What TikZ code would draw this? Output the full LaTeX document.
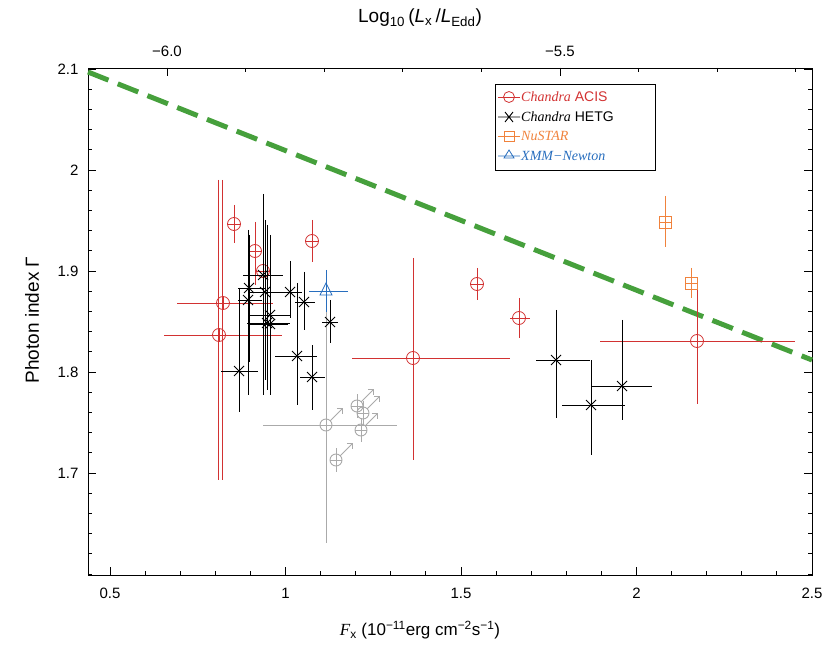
\documentclass[tikz,border=0pt]{standalone}
\usepackage{fontspec}
\setmainfont{Liberation Sans}
\newfontfamily\serifit{Liberation Serif}
\usetikzlibrary{arrows.meta}
\begin{document}
\begin{tikzpicture}[x=1pt,y=-1pt,
 ax/.style={line width=0.9pt},
 red/.style={draw={rgb,255:red,210;green,50;blue,50},line width=0.8pt},
 blk/.style={draw=black,line width=0.9pt},
 gry/.style={draw={rgb,255:red,170;green,170;blue,170},line width=0.9pt},
 org/.style={draw={rgb,255:red,240;green,130;blue,60},line width=0.9pt},
 blu/.style={draw={rgb,255:red,40;green,110;blue,190},line width=0.8pt}]
\definecolor{cred}{RGB}{210,50,50}\definecolor{corg}{RGB}{240,130,60}\definecolor{cblu}{RGB}{40,110,190}\definecolor{cgrn}{RGB}{70,160,60}
\useasboundingbox (0,0) rectangle (830,652);
% frame
\draw[ax] (88,68) rectangle (812,575);
% bottom ticks
\foreach \v in {0.5,1,1.5,2,2.5}{\pgfmathsetmacro\xx{110+(\v-0.5)*351}
 \draw[ax] (\xx,575)--(\xx,567); \node[font=\fontsize{15}{15}\selectfont] at (\xx,593) {\v};}
\foreach \i in {0,...,20}{\pgfmathsetmacro\xx{110+(\i*0.1)*351-0.1*351}\ifdim\xx pt>88pt\ifdim\xx pt<812pt\draw[ax] (\xx,575)--(\xx,571);\fi\fi}
% left/right ticks
\foreach \v in {1.7,1.8,1.9,2,2.1}{\pgfmathsetmacro\yy{170-(\v-2)*1010}
 \draw[ax] (88,\yy)--(96,\yy); \draw[ax] (812,\yy)--(804,\yy); \node[font=\fontsize{15}{15}\selectfont,anchor=east] at (82,\yy) {\v};}
\foreach \i in {0,...,24}{\pgfmathsetmacro\yy{574-\i*20.2}\draw[ax] (88,\yy)--(92,\yy); \draw[ax] (812,\yy)--(808,\yy);}
% top ticks
\foreach \v/\t in {-6.0/−6.0,-5.5/−5.5}{\pgfmathsetmacro\xx{167+(\v+6)*786}
 \draw[ax] (\xx,68)--(\xx,76); \node[font=\fontsize{15}{15}\selectfont] at (\xx,51) {\t};}
\foreach \i in {-1,...,8}{\pgfmathsetmacro\xx{167+\i*78.6}\ifdim\xx pt>88pt\ifdim\xx pt<812pt\draw[ax] (\xx,68)--(\xx,72);\fi\fi}
% labels
\node[font=\fontsize{19}{19}\selectfont] at (420,18) {Log\textsubscript{10}\,(\textit{L}\textsubscript{x}\,/\textit{L}\textsubscript{Edd})};
\node[font=\fontsize{19}{19}\selectfont,rotate=90] at (32,320) {Photon index Γ};
\node[font=\fontsize{17}{17}\selectfont] at (420,630) {{\serifit\itshape F}\textsubscript{x} (10\textsuperscript{−11}erg cm\textsuperscript{−2}s\textsuperscript{−1})};
% green line
\draw[cgrn,line width=5pt,dash pattern=on 22pt off 10pt] (88,72)--(812,360);
% grey
\begin{scope}[gry]
\draw (263,425)--(397,425) (326,300)--(326,543);
\foreach \x/\y in {326/425,357/406,363/413,361/430,336/460}{
 \draw (\x,\y) circle (6); \draw (\x-6,\y)--(\x+6,\y) (\x,\y-12)--(\x,\y+12);
 \draw[-{Straight Barb[length=4pt]}] (\x+4,\y-4)--(\x+17,\y-17);}
\end{scope}
% red ACIS
\begin{scope}[red]
\draw (218,180)--(218,480) (222,180)--(222,480);
\foreach \x/\y/\xa/\xb/\ya/\yb in {234/224/234/234/205/243,255/251/255/255/222/285,263/271/263/263/262/282,312/241/312/312/220/262,223/303/177/273/303/303,219/335/164/282/335/335,413/358/352/510/258/460,477/284/477/477/268/300,519/318/510/530/298/338,697/341/600/795/278/404}{
 \draw (\xa,\y)--(\xb,\y) (\x,\ya)--(\x,\yb); \draw (\x,\y) circle (6.5); \draw (\x-6.5,\y)--(\x+6.5,\y) (\x,\y-6.5)--(\x,\y+6.5);}
\end{scope}
% black HETG
\begin{scope}[blk]
\foreach \x/\y/\xa/\xb/\ya/\yb in {263/275/243/283/194/395,249/288/238/265/235/362,265/292/250/282/220/380,290/292/278/302/261/318,248/300/238/262/230/395,304/302/295/315/272/330,270/315/250/290/235/395,267/323/247/290/225/390,270/324/250/288/255/380,330/322/322/338/300/343,297/356/275/317/283/405,312/377/300/325/345/410,239/371/221/258/288/412,556/360/536/590/310/418,591/405/562/625/360/455,622/386/592/652/320/420}{
 \draw (\xa,\y)--(\xb,\y) (\x,\ya)--(\x,\yb);
 \draw (\x-5,\y-5)--(\x+5,\y+5) (\x-5,\y+5)--(\x+5,\y-5);}
\end{scope}
% orange
\begin{scope}[org]
\foreach \x/\y/\ya/\yb in {665/222/196/247,691/283/268/298}{
 \draw (\x,\ya)--(\x,\yb) (\x-6,\y)--(\x+6,\y); \draw (\x-6,\y-6) rectangle (\x+6,\y+6);}
\end{scope}
% blue
\begin{scope}[blu]
\draw (309,291)--(348,291) (326,270)--(326,312);
\draw (326,283)--(332,295)--(320,295)--cycle;
\end{scope}
% legend
\draw[line width=0.8pt] (495,84) rectangle (655,170);
\draw[red] (498,97)--(520,97); \draw[red] (509,97) circle (5.5);
\node[cred,anchor=west,inner sep=0,font=\fontsize{14}{14}\selectfont] at (521,97) {{\serifit\itshape Chandra} ACIS};
\draw[blk] (498,117)--(520,117) (505,112)--(513,122) (505,122)--(513,112);
\node[anchor=west,inner sep=0,font=\fontsize{14}{14}\selectfont] at (521,117) {{\serifit\itshape Chandra} HETG};
\draw[org] (498,136)--(520,136) (504,131) rectangle (514,141);
\node[corg,anchor=west,inner sep=0,font=\fontsize{14}{14}\selectfont] at (521,136) {\serifit\itshape NuSTAR};
\draw[blu] (498,156)--(520,156) (509,150)--(514,158)--(504,158)--cycle;
\node[cblu,anchor=west,inner sep=0,font=\fontsize{14}{14}\selectfont] at (521,156) {\serifit\itshape XMM−Newton};
\end{tikzpicture}
\end{document}
